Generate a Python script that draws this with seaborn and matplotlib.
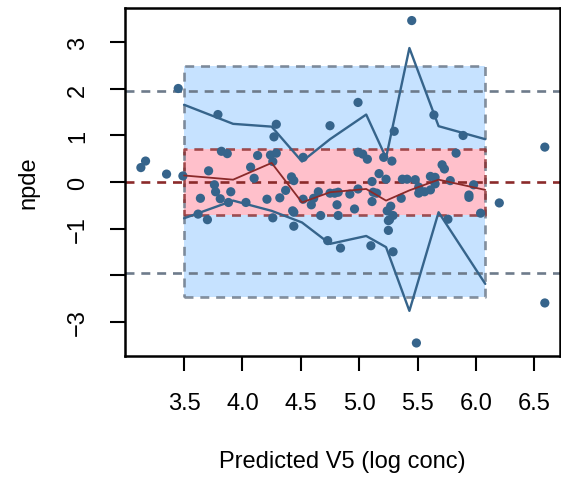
import matplotlib
matplotlib.use("Agg")
import matplotlib.pyplot as plt
import seaborn as sns
import numpy as np
import pandas as pd

# observed npde vs predicted (log conc)
obs_x = [3.13, 3.17, 3.35, 3.45, 3.49,
         3.62, 3.64, 3.70, 3.71, 3.76, 3.77, 3.79, 3.81, 3.82, 3.87, 3.88, 3.90,
         4.03, 4.07, 4.10, 4.13, 4.21, 4.24, 4.26, 4.26, 4.27, 4.29, 4.29, 4.32,
         4.37, 4.42, 4.44, 4.43, 4.44, 4.44,
         4.52, 4.52, 4.59, 4.61, 4.65, 4.67, 4.73, 4.75, 4.75, 4.79, 4.81, 4.82,
         4.82, 4.84, 4.92, 4.96, 4.99, 4.99, 4.99,
         5.03, 5.07, 5.10, 5.11, 5.11, 5.12, 5.15, 5.17, 5.21, 5.23, 5.24, 5.25,
         5.25, 5.26, 5.27, 5.28, 5.29, 5.29, 5.30, 5.36, 5.37, 5.41, 5.45, 5.48, 5.49,
         5.51, 5.51, 5.56, 5.61, 5.61, 5.64, 5.65, 5.65, 5.71, 5.73, 5.76, 5.78,
         5.83, 5.89, 5.94, 5.94, 5.98, 6.04,
         6.20, 6.59, 6.59]
obs_y = [0.31, 0.45, 0.17, 2.01, 0.13,
         -0.69, -0.35, -0.81, 0.24, -0.06, -0.21, 1.45, -0.36, 0.66, 0.61, -0.44, -0.21,
         -0.44, 0.32, 0.08, 0.57, -0.37, 0.58, 0.44, -0.77, 0.97, 1.24, 0.62, -0.34,
         -0.18, 0.11, 0.03, -0.62, -0.65, -0.95,
         0.53, -0.37, -0.49, -0.35, -0.21, -0.72, -1.26, 1.21, -0.24, -0.24, -0.49, -0.22,
         -0.72, -1.42, -0.26, -0.58, 1.71, 0.64, -0.15,
         0.60, 0.49, -1.37, 0.01, -0.42, -0.22, -0.24, 0.18, 0.53, 0.06, -0.62, -0.83,
         -1.04, -0.81, -0.52, 0.45, -1.50, -0.72, 1.09, -0.35, 0.06, 0.06, 3.47, 0.05, -3.46,
         -0.24, -0.11, -0.21, 0.12, -0.17, 1.44, 0.10, -0.04, 0.37, 0.28, -0.80, 0.03,
         0.62, 1.00, -0.28, -0.33, -0.06, -0.67,
         -0.45, 0.75, -2.60]

# binned empirical percentiles
bin_x = [3.50, 3.92, 4.25, 4.51, 4.75, 5.06, 5.23, 5.43, 5.68, 6.08]
p95 = [1.66, 1.25, 1.19, 0.44, 0.92, 1.45, 0.52, 2.88, 1.20, 0.92]
p50 = [0.14, 0.05, 0.41, -0.44, -0.22, -0.15, -0.40, -0.18, 0.05, -0.17]
p05 = [-0.78, -0.40, -0.62, -0.87, -1.33, -1.16, -1.40, -2.77, -0.65, -2.19]

# prediction intervals under H0
outer_band = [-2.47, 2.50]
inner_band = [-0.70, 0.71]
ref_lines = [-1.96, 1.96]
xticks = [3.5, 4.0, 4.5, 5.0, 5.5, 6.0, 6.5]
yticks = [-3, -2, -1, 0, 1, 2, 3]
ytick_labels = ["\u22123", "", "\u22121", "0", "1", "2", "3"]

sns.set_style("white")
plt.rcParams["font.family"] = ["Liberation Sans", "DejaVu Sans"]
plt.rcParams["text.color"] = "black"
plt.rcParams["axes.labelcolor"] = "black"

fig = plt.figure(figsize=(5.61, 4.81), dpi=100)
ax = fig.add_axes([125 / 561, 1 - 357 / 481, 435 / 561, 348 / 481])

pt_col = "#36648B"
red_col = "#8B2A2A"
gray_col = "#6E7B8B"
dash = (0, (3.4, 2.6))

x0, x1 = bin_x[0], bin_x[-1]
ax.fill_between([x0, x1], outer_band[0], outer_band[1], color="#C6E2FF", lw=0, zorder=1)
ax.fill_between([x0, x1], inner_band[0], inner_band[1], color="#FFC0CB", lw=0, zorder=1.5)
ax.plot([x0, x1, x1, x0, x0],
        [outer_band[0], outer_band[0], outer_band[1], outer_band[1], outer_band[0]],
        color=gray_col, ls=dash, lw=1.9, zorder=2, alpha=0.85)
ax.plot([x0, x1, x1, x0, x0],
        [inner_band[0], inner_band[0], inner_band[1], inner_band[1], inner_band[0]],
        color=red_col, ls=dash, lw=1.9, zorder=2, alpha=0.8)

for r in ref_lines:
    ax.axhline(r, color=gray_col, ls=dash, lw=1.9, zorder=2.5)
ax.axhline(0, color=red_col, ls=dash, lw=1.9, zorder=2.5)

df = pd.DataFrame({"x": obs_x, "y": obs_y})
sns.scatterplot(data=df, x="x", y="y", ax=ax, color=pt_col, s=44, edgecolor="none", zorder=3)

lines = pd.DataFrame({"x": bin_x, "p05": p05, "p50": p50, "p95": p95})
sns.lineplot(data=lines, x="x", y="p95", ax=ax, color=pt_col, lw=1.7, sort=False, estimator=None, zorder=4)
sns.lineplot(data=lines, x="x", y="p05", ax=ax, color=pt_col, lw=1.7, sort=False, estimator=None, zorder=4)
sns.lineplot(data=lines, x="x", y="p50", ax=ax, color=red_col, lw=1.3, sort=False, estimator=None, zorder=4)

ax.set_xlim(2.994, 6.72)
ax.set_ylim(-3.74, 3.74)
ax.set_xticks(xticks)
ax.set_xticklabels([f"{t:.1f}" for t in xticks])
ax.set_yticks(yticks)
ax.set_yticklabels(ytick_labels, rotation=90, va="center")

for s in ax.spines.values():
    s.set_visible(True)
    s.set_color("black")
    s.set_linewidth(1.8)

ax.tick_params(axis="both", direction="out", length=11, width=1.5, colors="black",
               labelsize=17, bottom=True, left=True)
ax.tick_params(axis="x", pad=15)
ax.tick_params(axis="y", pad=15)

ax.set_xlabel("Predicted V5 (log conc)", fontsize=17, labelpad=26)
ax.set_ylabel("npde", fontsize=17, labelpad=20)

fig.savefig("out.png", dpi=100)
